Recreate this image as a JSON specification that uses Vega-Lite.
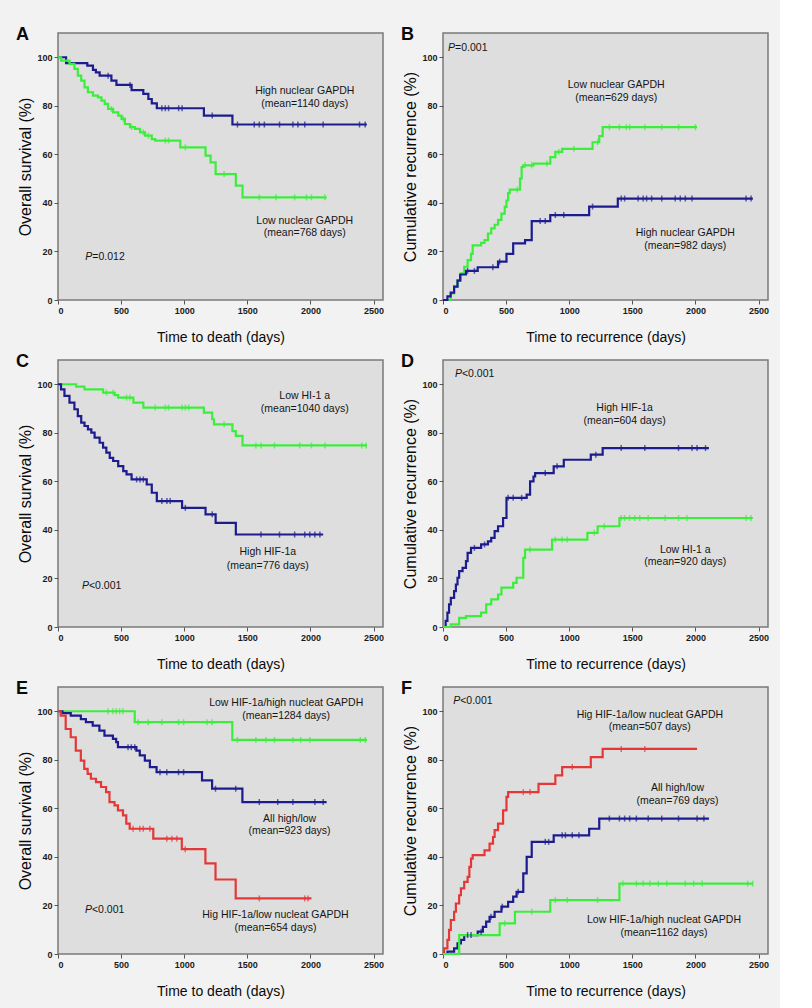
{
  "$schema": "https://vega.github.io/schema/vega-lite/v6.json",
  "background": "#f2f2f2",
  "padding": {"left": 15, "top": 25, "right": 10, "bottom": 10},
  "bounds": "flush",
  "spacing": {"row": 60, "column": 60},
  "columns": 2,
  "config": {
    "font": "Liberation Sans",
    "view": {"fill": "#dedede", "stroke": "#7a7a7a", "strokeWidth": 1.5},
    "axis": {"grid": false, "domain": false, "tickColor": "#555555", "tickSize": 4, "labelFontSize": 9, "labelFontWeight": "bold", "labelColor": "#1a1a1a", "labelPadding": 2, "titleFontSize": 14, "titleFontWeight": "normal", "titleColor": "#0a0a0a", "format": "d"},
    "axisX": {"titlePadding": 15},
    "axisY": {"titlePadding": 3, "titleFontSize": 16},
    "title": {"fontSize": 18, "fontWeight": "bold", "anchor": "start", "frame": "group", "offset": 0, "dx": -42, "dy": 15, "baseline": "alphabetic", "color": "#0a0a0a"},
    "text": {"fontSize": 10.5, "color": "#151515"},
    "line": {"strokeWidth": 2.2},
    "tick": {"orient": "vertical", "size": 6, "thickness": 1.5}
  },
  "datasets": {
    "curves": [
      {"panel":"A","group":"High nuclear GAPDH","t":0,"s":100},{"panel":"A","group":"High nuclear GAPDH","t":64,"s":97.6},{"panel":"A","group":"High nuclear GAPDH","t":232,"s":96.6},{"panel":"A","group":"High nuclear GAPDH","t":277,"s":94.8},{"panel":"A","group":"High nuclear GAPDH","t":300,"s":93.8},{"panel":"A","group":"High nuclear GAPDH","t":330,"s":92.4},{"panel":"A","group":"High nuclear GAPDH","t":423,"s":90.4},{"panel":"A","group":"High nuclear GAPDH","t":463,"s":88.6},{"panel":"A","group":"High nuclear GAPDH","t":583,"s":86.5},{"panel":"A","group":"High nuclear GAPDH","t":676,"s":84.9},{"panel":"A","group":"High nuclear GAPDH","t":716,"s":82.8},{"panel":"A","group":"High nuclear GAPDH","t":743,"s":81},{"panel":"A","group":"High nuclear GAPDH","t":783,"s":79},{"panel":"A","group":"High nuclear GAPDH","t":1156,"s":76},{"panel":"A","group":"High nuclear GAPDH","t":1382,"s":72.3},{"panel":"A","group":"High nuclear GAPDH","t":2447,"s":72.3},
      {"panel":"A","group":"Low nuclear GAPDH","t":0,"s":100},{"panel":"A","group":"Low nuclear GAPDH","t":24,"s":98.6},{"panel":"A","group":"Low nuclear GAPDH","t":91,"s":97.3},{"panel":"A","group":"Low nuclear GAPDH","t":130,"s":95.2},{"panel":"A","group":"Low nuclear GAPDH","t":157,"s":92.4},{"panel":"A","group":"Low nuclear GAPDH","t":184,"s":90.4},{"panel":"A","group":"Low nuclear GAPDH","t":210,"s":87.6},{"panel":"A","group":"Low nuclear GAPDH","t":237,"s":85.6},{"panel":"A","group":"Low nuclear GAPDH","t":277,"s":84.2},{"panel":"A","group":"Low nuclear GAPDH","t":317,"s":83.5},{"panel":"A","group":"Low nuclear GAPDH","t":344,"s":82.1},{"panel":"A","group":"Low nuclear GAPDH","t":370,"s":80.8},{"panel":"A","group":"Low nuclear GAPDH","t":397,"s":78.7},{"panel":"A","group":"Low nuclear GAPDH","t":437,"s":77.3},{"panel":"A","group":"Low nuclear GAPDH","t":477,"s":76},{"panel":"A","group":"Low nuclear GAPDH","t":503,"s":74.6},{"panel":"A","group":"Low nuclear GAPDH","t":530,"s":72.5},{"panel":"A","group":"Low nuclear GAPDH","t":570,"s":71.2},{"panel":"A","group":"Low nuclear GAPDH","t":610,"s":70.5},{"panel":"A","group":"Low nuclear GAPDH","t":650,"s":69.1},{"panel":"A","group":"Low nuclear GAPDH","t":690,"s":67.7},{"panel":"A","group":"Low nuclear GAPDH","t":743,"s":66.3},{"panel":"A","group":"Low nuclear GAPDH","t":770,"s":65.7},{"panel":"A","group":"Low nuclear GAPDH","t":969,"s":62.9},{"panel":"A","group":"Low nuclear GAPDH","t":1169,"s":59.5},{"panel":"A","group":"Low nuclear GAPDH","t":1209,"s":56.7},{"panel":"A","group":"Low nuclear GAPDH","t":1249,"s":51.9},{"panel":"A","group":"Low nuclear GAPDH","t":1409,"s":47.1},{"panel":"A","group":"Low nuclear GAPDH","t":1462,"s":42.3},{"panel":"A","group":"Low nuclear GAPDH","t":2128,"s":42.3},

      {"panel":"B","group":"Low nuclear GAPDH","t":0,"s":0},{"panel":"B","group":"Low nuclear GAPDH","t":61,"s":2.7},{"panel":"B","group":"Low nuclear GAPDH","t":88,"s":5.5},{"panel":"B","group":"Low nuclear GAPDH","t":115,"s":8.2},{"panel":"B","group":"Low nuclear GAPDH","t":142,"s":11},{"panel":"B","group":"Low nuclear GAPDH","t":168,"s":13.7},{"panel":"B","group":"Low nuclear GAPDH","t":195,"s":16.4},{"panel":"B","group":"Low nuclear GAPDH","t":222,"s":19},{"panel":"B","group":"Low nuclear GAPDH","t":235,"s":22.5},{"panel":"B","group":"Low nuclear GAPDH","t":302,"s":23.5},{"panel":"B","group":"Low nuclear GAPDH","t":329,"s":24.7},{"panel":"B","group":"Low nuclear GAPDH","t":356,"s":27.4},{"panel":"B","group":"Low nuclear GAPDH","t":382,"s":29.5},{"panel":"B","group":"Low nuclear GAPDH","t":409,"s":31},{"panel":"B","group":"Low nuclear GAPDH","t":436,"s":33},{"panel":"B","group":"Low nuclear GAPDH","t":463,"s":35.6},{"panel":"B","group":"Low nuclear GAPDH","t":489,"s":38.4},{"panel":"B","group":"Low nuclear GAPDH","t":503,"s":41},{"panel":"B","group":"Low nuclear GAPDH","t":516,"s":44},{"panel":"B","group":"Low nuclear GAPDH","t":529,"s":45.5},{"panel":"B","group":"Low nuclear GAPDH","t":610,"s":50},{"panel":"B","group":"Low nuclear GAPDH","t":623,"s":54.8},{"panel":"B","group":"Low nuclear GAPDH","t":636,"s":55.5},{"panel":"B","group":"Low nuclear GAPDH","t":717,"s":56.2},{"panel":"B","group":"Low nuclear GAPDH","t":850,"s":58.9},{"panel":"B","group":"Low nuclear GAPDH","t":890,"s":61},{"panel":"B","group":"Low nuclear GAPDH","t":944,"s":62.3},{"panel":"B","group":"Low nuclear GAPDH","t":1185,"s":65},{"panel":"B","group":"Low nuclear GAPDH","t":1238,"s":67.5},{"panel":"B","group":"Low nuclear GAPDH","t":1265,"s":71.2},{"panel":"B","group":"Low nuclear GAPDH","t":2013,"s":71.2},
      {"panel":"B","group":"High nuclear GAPDH","t":0,"s":0},{"panel":"B","group":"High nuclear GAPDH","t":35,"s":1.5},{"panel":"B","group":"High nuclear GAPDH","t":61,"s":3},{"panel":"B","group":"High nuclear GAPDH","t":88,"s":5.5},{"panel":"B","group":"High nuclear GAPDH","t":115,"s":8},{"panel":"B","group":"High nuclear GAPDH","t":136,"s":10.5},{"panel":"B","group":"High nuclear GAPDH","t":182,"s":12},{"panel":"B","group":"High nuclear GAPDH","t":275,"s":13.5},{"panel":"B","group":"High nuclear GAPDH","t":436,"s":15.8},{"panel":"B","group":"High nuclear GAPDH","t":503,"s":19},{"panel":"B","group":"High nuclear GAPDH","t":556,"s":23.3},{"panel":"B","group":"High nuclear GAPDH","t":650,"s":24.7},{"panel":"B","group":"High nuclear GAPDH","t":703,"s":32.5},{"panel":"B","group":"High nuclear GAPDH","t":850,"s":35},{"panel":"B","group":"High nuclear GAPDH","t":1158,"s":38.5},{"panel":"B","group":"High nuclear GAPDH","t":1385,"s":41.8},{"panel":"B","group":"High nuclear GAPDH","t":2455,"s":41.8},

      {"panel":"C","group":"Low HIF-1a","t":0,"s":100},{"panel":"C","group":"Low HIF-1a","t":144,"s":99},{"panel":"C","group":"Low HIF-1a","t":210,"s":97.9},{"panel":"C","group":"Low HIF-1a","t":357,"s":96.6},{"panel":"C","group":"Low HIF-1a","t":450,"s":95.5},{"panel":"C","group":"Low HIF-1a","t":477,"s":94.5},{"panel":"C","group":"Low HIF-1a","t":597,"s":92.4},{"panel":"C","group":"Low HIF-1a","t":676,"s":90.4},{"panel":"C","group":"Low HIF-1a","t":1156,"s":88.3},{"panel":"C","group":"Low HIF-1a","t":1222,"s":85.6},{"panel":"C","group":"Low HIF-1a","t":1236,"s":83.5},{"panel":"C","group":"Low HIF-1a","t":1382,"s":80.7},{"panel":"C","group":"Low HIF-1a","t":1409,"s":78.7},{"panel":"C","group":"Low HIF-1a","t":1462,"s":74.8},{"panel":"C","group":"Low HIF-1a","t":2447,"s":74.8},
      {"panel":"C","group":"High HIF-1a","t":0,"s":100},{"panel":"C","group":"High HIF-1a","t":24,"s":97.9},{"panel":"C","group":"High HIF-1a","t":51,"s":95.2},{"panel":"C","group":"High HIF-1a","t":91,"s":92.4},{"panel":"C","group":"High HIF-1a","t":130,"s":89.7},{"panel":"C","group":"High HIF-1a","t":157,"s":86.9},{"panel":"C","group":"High HIF-1a","t":184,"s":84.2},{"panel":"C","group":"High HIF-1a","t":210,"s":82.8},{"panel":"C","group":"High HIF-1a","t":237,"s":81.4},{"panel":"C","group":"High HIF-1a","t":264,"s":80.1},{"panel":"C","group":"High HIF-1a","t":290,"s":78},{"panel":"C","group":"High HIF-1a","t":330,"s":75.9},{"panel":"C","group":"High HIF-1a","t":357,"s":73.9},{"panel":"C","group":"High HIF-1a","t":383,"s":71.8},{"panel":"C","group":"High HIF-1a","t":410,"s":69.7},{"panel":"C","group":"High HIF-1a","t":437,"s":68.4},{"panel":"C","group":"High HIF-1a","t":477,"s":66.3},{"panel":"C","group":"High HIF-1a","t":517,"s":64.2},{"panel":"C","group":"High HIF-1a","t":543,"s":62.9},{"panel":"C","group":"High HIF-1a","t":583,"s":60.8},{"panel":"C","group":"High HIF-1a","t":703,"s":58.7},{"panel":"C","group":"High HIF-1a","t":743,"s":55.3},{"panel":"C","group":"High HIF-1a","t":783,"s":51.9},{"panel":"C","group":"High HIF-1a","t":983,"s":49.1},{"panel":"C","group":"High HIF-1a","t":1169,"s":46.4},{"panel":"C","group":"High HIF-1a","t":1249,"s":42.9},{"panel":"C","group":"High HIF-1a","t":1409,"s":38.1},{"panel":"C","group":"High HIF-1a","t":2101,"s":38.1},

      {"panel":"D","group":"High HIF-1a","t":0,"s":0},{"panel":"D","group":"High HIF-1a","t":21,"s":2.5},{"panel":"D","group":"High HIF-1a","t":35,"s":5.9},{"panel":"D","group":"High HIF-1a","t":48,"s":9.3},{"panel":"D","group":"High HIF-1a","t":62,"s":12},{"panel":"D","group":"High HIF-1a","t":88,"s":14.8},{"panel":"D","group":"High HIF-1a","t":102,"s":17.5},{"panel":"D","group":"High HIF-1a","t":115,"s":20.3},{"panel":"D","group":"High HIF-1a","t":128,"s":23},{"panel":"D","group":"High HIF-1a","t":155,"s":24.4},{"panel":"D","group":"High HIF-1a","t":182,"s":27.1},{"panel":"D","group":"High HIF-1a","t":195,"s":30.5},{"panel":"D","group":"High HIF-1a","t":222,"s":32.6},{"panel":"D","group":"High HIF-1a","t":302,"s":34},{"panel":"D","group":"High HIF-1a","t":356,"s":35.3},{"panel":"D","group":"High HIF-1a","t":382,"s":36.7},{"panel":"D","group":"High HIF-1a","t":409,"s":39.5},{"panel":"D","group":"High HIF-1a","t":436,"s":41.5},{"panel":"D","group":"High HIF-1a","t":476,"s":44.9},{"panel":"D","group":"High HIF-1a","t":503,"s":53.2},{"panel":"D","group":"High HIF-1a","t":663,"s":54.5},{"panel":"D","group":"High HIF-1a","t":690,"s":60},{"panel":"D","group":"High HIF-1a","t":717,"s":62},{"panel":"D","group":"High HIF-1a","t":730,"s":63.4},{"panel":"D","group":"High HIF-1a","t":877,"s":66.2},{"panel":"D","group":"High HIF-1a","t":957,"s":68.9},{"panel":"D","group":"High HIF-1a","t":1171,"s":71},{"panel":"D","group":"High HIF-1a","t":1265,"s":73.7},{"panel":"D","group":"High HIF-1a","t":2107,"s":73.7},
      {"panel":"D","group":"Low HIF-1a","t":0,"s":0},{"panel":"D","group":"Low HIF-1a","t":62,"s":1.1},{"panel":"D","group":"Low HIF-1a","t":128,"s":3.8},{"panel":"D","group":"Low HIF-1a","t":182,"s":4.5},{"panel":"D","group":"Low HIF-1a","t":302,"s":5.9},{"panel":"D","group":"Low HIF-1a","t":342,"s":9.3},{"panel":"D","group":"Low HIF-1a","t":382,"s":11.4},{"panel":"D","group":"Low HIF-1a","t":436,"s":13.4},{"panel":"D","group":"Low HIF-1a","t":463,"s":16.2},{"panel":"D","group":"Low HIF-1a","t":556,"s":18.2},{"panel":"D","group":"Low HIF-1a","t":583,"s":20.3},{"panel":"D","group":"Low HIF-1a","t":636,"s":28.5},{"panel":"D","group":"Low HIF-1a","t":650,"s":31.9},{"panel":"D","group":"Low HIF-1a","t":864,"s":36},{"panel":"D","group":"Low HIF-1a","t":1144,"s":38.8},{"panel":"D","group":"Low HIF-1a","t":1225,"s":41.5},{"panel":"D","group":"Low HIF-1a","t":1398,"s":44.9},{"panel":"D","group":"Low HIF-1a","t":2455,"s":44.9},

      {"panel":"E","group":"Low HIF-1a/high nuclear GAPDH","t":0,"s":100},{"panel":"E","group":"Low HIF-1a/high nuclear GAPDH","t":608,"s":95.5},{"panel":"E","group":"Low HIF-1a/high nuclear GAPDH","t":1381,"s":88.2},{"panel":"E","group":"Low HIF-1a/high nuclear GAPDH","t":2448,"s":88.2},
      {"panel":"E","group":"All high/low","t":0,"s":100},{"panel":"E","group":"All high/low","t":35,"s":99.2},{"panel":"E","group":"All high/low","t":101,"s":98.2},{"panel":"E","group":"All high/low","t":181,"s":96.8},{"panel":"E","group":"All high/low","t":221,"s":95.5},{"panel":"E","group":"All high/low","t":275,"s":94.1},{"panel":"E","group":"All high/low","t":328,"s":92},{"panel":"E","group":"All high/low","t":368,"s":90},{"panel":"E","group":"All high/low","t":435,"s":88.6},{"panel":"E","group":"All high/low","t":461,"s":87.3},{"panel":"E","group":"All high/low","t":475,"s":85.2},{"panel":"E","group":"All high/low","t":621,"s":83.8},{"panel":"E","group":"All high/low","t":648,"s":81.8},{"panel":"E","group":"All high/low","t":688,"s":79.7},{"panel":"E","group":"All high/low","t":728,"s":77},{"panel":"E","group":"All high/low","t":781,"s":74.9},{"panel":"E","group":"All high/low","t":1141,"s":71.5},{"panel":"E","group":"All high/low","t":1221,"s":68.1},{"panel":"E","group":"All high/low","t":1461,"s":62.6},{"panel":"E","group":"All high/low","t":2128,"s":62.6},
      {"panel":"E","group":"High HIF-1a/low nuclear GAPDH","t":0,"s":100},{"panel":"E","group":"High HIF-1a/low nuclear GAPDH","t":21,"s":98.2},{"panel":"E","group":"High HIF-1a/low nuclear GAPDH","t":61,"s":92.7},{"panel":"E","group":"High HIF-1a/low nuclear GAPDH","t":101,"s":89.3},{"panel":"E","group":"High HIF-1a/low nuclear GAPDH","t":141,"s":83.8},{"panel":"E","group":"High HIF-1a/low nuclear GAPDH","t":181,"s":79.7},{"panel":"E","group":"High HIF-1a/low nuclear GAPDH","t":208,"s":76.3},{"panel":"E","group":"High HIF-1a/low nuclear GAPDH","t":235,"s":74.2},{"panel":"E","group":"High HIF-1a/low nuclear GAPDH","t":261,"s":72.2},{"panel":"E","group":"High HIF-1a/low nuclear GAPDH","t":301,"s":70.8},{"panel":"E","group":"High HIF-1a/low nuclear GAPDH","t":341,"s":68.8},{"panel":"E","group":"High HIF-1a/low nuclear GAPDH","t":381,"s":66.7},{"panel":"E","group":"High HIF-1a/low nuclear GAPDH","t":408,"s":62.6},{"panel":"E","group":"High HIF-1a/low nuclear GAPDH","t":448,"s":61.2},{"panel":"E","group":"High HIF-1a/low nuclear GAPDH","t":475,"s":59.2},{"panel":"E","group":"High HIF-1a/low nuclear GAPDH","t":515,"s":57.1},{"panel":"E","group":"High HIF-1a/low nuclear GAPDH","t":541,"s":53.7},{"panel":"E","group":"High HIF-1a/low nuclear GAPDH","t":568,"s":51.6},{"panel":"E","group":"High HIF-1a/low nuclear GAPDH","t":755,"s":47.5},{"panel":"E","group":"High HIF-1a/low nuclear GAPDH","t":981,"s":43.2},{"panel":"E","group":"High HIF-1a/low nuclear GAPDH","t":1168,"s":37.3},{"panel":"E","group":"High HIF-1a/low nuclear GAPDH","t":1248,"s":30.7},{"panel":"E","group":"High HIF-1a/low nuclear GAPDH","t":1408,"s":22.9},{"panel":"E","group":"High HIF-1a/low nuclear GAPDH","t":2008,"s":22.9},

      {"panel":"F","group":"High HIF-1a/low nuclear GAPDH","t":0,"s":0},{"panel":"F","group":"High HIF-1a/low nuclear GAPDH","t":8,"s":2.3},{"panel":"F","group":"High HIF-1a/low nuclear GAPDH","t":35,"s":5.8},{"panel":"F","group":"High HIF-1a/low nuclear GAPDH","t":48,"s":9.9},{"panel":"F","group":"High HIF-1a/low nuclear GAPDH","t":62,"s":14},{"panel":"F","group":"High HIF-1a/low nuclear GAPDH","t":88,"s":17.4},{"panel":"F","group":"High HIF-1a/low nuclear GAPDH","t":102,"s":20.8},{"panel":"F","group":"High HIF-1a/low nuclear GAPDH","t":128,"s":24.2},{"panel":"F","group":"High HIF-1a/low nuclear GAPDH","t":142,"s":27},{"panel":"F","group":"High HIF-1a/low nuclear GAPDH","t":168,"s":29.7},{"panel":"F","group":"High HIF-1a/low nuclear GAPDH","t":195,"s":31.8},{"panel":"F","group":"High HIF-1a/low nuclear GAPDH","t":209,"s":35.9},{"panel":"F","group":"High HIF-1a/low nuclear GAPDH","t":222,"s":39.3},{"panel":"F","group":"High HIF-1a/low nuclear GAPDH","t":235,"s":40.7},{"panel":"F","group":"High HIF-1a/low nuclear GAPDH","t":329,"s":42.7},{"panel":"F","group":"High HIF-1a/low nuclear GAPDH","t":369,"s":45.5},{"panel":"F","group":"High HIF-1a/low nuclear GAPDH","t":396,"s":48.2},{"panel":"F","group":"High HIF-1a/low nuclear GAPDH","t":409,"s":51},{"panel":"F","group":"High HIF-1a/low nuclear GAPDH","t":436,"s":53.7},{"panel":"F","group":"High HIF-1a/low nuclear GAPDH","t":476,"s":59.2},{"panel":"F","group":"High HIF-1a/low nuclear GAPDH","t":503,"s":64.7},{"panel":"F","group":"High HIF-1a/low nuclear GAPDH","t":516,"s":66.7},{"panel":"F","group":"High HIF-1a/low nuclear GAPDH","t":757,"s":70.1},{"panel":"F","group":"High HIF-1a/low nuclear GAPDH","t":890,"s":73.6},{"panel":"F","group":"High HIF-1a/low nuclear GAPDH","t":944,"s":77},{"panel":"F","group":"High HIF-1a/low nuclear GAPDH","t":1171,"s":81.1},{"panel":"F","group":"High HIF-1a/low nuclear GAPDH","t":1265,"s":84.5},{"panel":"F","group":"High HIF-1a/low nuclear GAPDH","t":2013,"s":84.5},
      {"panel":"F","group":"All high/low","t":0,"s":0},{"panel":"F","group":"All high/low","t":35,"s":1},{"panel":"F","group":"All high/low","t":88,"s":2.3},{"panel":"F","group":"All high/low","t":115,"s":4.4},{"panel":"F","group":"All high/low","t":142,"s":5.8},{"panel":"F","group":"All high/low","t":168,"s":7.8},{"panel":"F","group":"All high/low","t":275,"s":9.2},{"panel":"F","group":"All high/low","t":316,"s":11.2},{"panel":"F","group":"All high/low","t":342,"s":13.3},{"panel":"F","group":"All high/low","t":369,"s":15.3},{"panel":"F","group":"All high/low","t":409,"s":17.4},{"panel":"F","group":"All high/low","t":463,"s":19.5},{"panel":"F","group":"All high/low","t":516,"s":21.5},{"panel":"F","group":"All high/low","t":556,"s":23.6},{"panel":"F","group":"All high/low","t":583,"s":25.6},{"panel":"F","group":"All high/low","t":636,"s":33.2},{"panel":"F","group":"All high/low","t":663,"s":40},{"panel":"F","group":"All high/low","t":703,"s":46.2},{"panel":"F","group":"All high/low","t":877,"s":48.9},{"panel":"F","group":"All high/low","t":1158,"s":51.6},{"panel":"F","group":"All high/low","t":1238,"s":55.8},{"panel":"F","group":"All high/low","t":2107,"s":55.8},
      {"panel":"F","group":"Low HIF-1a/high nuclear GAPDH","t":0,"s":0},{"panel":"F","group":"Low HIF-1a/high nuclear GAPDH","t":128,"s":7.8},{"panel":"F","group":"Low HIF-1a/high nuclear GAPDH","t":449,"s":12.6},{"panel":"F","group":"Low HIF-1a/high nuclear GAPDH","t":570,"s":17.4},{"panel":"F","group":"Low HIF-1a/high nuclear GAPDH","t":850,"s":22.2},{"panel":"F","group":"Low HIF-1a/high nuclear GAPDH","t":1398,"s":29},{"panel":"F","group":"Low HIF-1a/high nuclear GAPDH","t":2455,"s":29}
    ],
    "censors": [
      {"panel":"A","group":"High nuclear GAPDH","t":397,"s":92.4},{"panel":"A","group":"High nuclear GAPDH","t":570,"s":88.6},{"panel":"A","group":"High nuclear GAPDH","t":823,"s":79},{"panel":"A","group":"High nuclear GAPDH","t":850,"s":79},{"panel":"A","group":"High nuclear GAPDH","t":876,"s":79},{"panel":"A","group":"High nuclear GAPDH","t":956,"s":79},{"panel":"A","group":"High nuclear GAPDH","t":983,"s":79},{"panel":"A","group":"High nuclear GAPDH","t":1222,"s":76},{"panel":"A","group":"High nuclear GAPDH","t":1422,"s":72.3},{"panel":"A","group":"High nuclear GAPDH","t":1555,"s":72.3},{"panel":"A","group":"High nuclear GAPDH","t":1595,"s":72.3},{"panel":"A","group":"High nuclear GAPDH","t":1635,"s":72.3},{"panel":"A","group":"High nuclear GAPDH","t":1755,"s":72.3},{"panel":"A","group":"High nuclear GAPDH","t":1861,"s":72.3},{"panel":"A","group":"High nuclear GAPDH","t":1901,"s":72.3},{"panel":"A","group":"High nuclear GAPDH","t":1955,"s":72.3},{"panel":"A","group":"High nuclear GAPDH","t":2101,"s":72.3},{"panel":"A","group":"High nuclear GAPDH","t":2389,"s":72.3},{"panel":"A","group":"High nuclear GAPDH","t":2434,"s":72.3},
      {"panel":"A","group":"Low nuclear GAPDH","t":423,"s":78.7},{"panel":"A","group":"Low nuclear GAPDH","t":517,"s":74.6},{"panel":"A","group":"Low nuclear GAPDH","t":583,"s":71.2},{"panel":"A","group":"Low nuclear GAPDH","t":676,"s":69.1},{"panel":"A","group":"Low nuclear GAPDH","t":716,"s":67.7},{"panel":"A","group":"Low nuclear GAPDH","t":850,"s":65.7},{"panel":"A","group":"Low nuclear GAPDH","t":876,"s":65.7},{"panel":"A","group":"Low nuclear GAPDH","t":1009,"s":62.9},{"panel":"A","group":"Low nuclear GAPDH","t":1316,"s":51.9},{"panel":"A","group":"Low nuclear GAPDH","t":1595,"s":42.3},{"panel":"A","group":"Low nuclear GAPDH","t":1728,"s":42.3},{"panel":"A","group":"Low nuclear GAPDH","t":1875,"s":42.3},{"panel":"A","group":"Low nuclear GAPDH","t":1968,"s":42.3},{"panel":"A","group":"Low nuclear GAPDH","t":2008,"s":42.3},{"panel":"A","group":"Low nuclear GAPDH","t":2115,"s":42.3},
      {"panel":"B","group":"Low nuclear GAPDH","t":589,"s":45.5},{"panel":"B","group":"Low nuclear GAPDH","t":650,"s":55.5},{"panel":"B","group":"Low nuclear GAPDH","t":703,"s":55.5},{"panel":"B","group":"Low nuclear GAPDH","t":823,"s":56.2},{"panel":"B","group":"Low nuclear GAPDH","t":917,"s":61},{"panel":"B","group":"Low nuclear GAPDH","t":1037,"s":62.3},{"panel":"B","group":"Low nuclear GAPDH","t":1225,"s":65},{"panel":"B","group":"Low nuclear GAPDH","t":1318,"s":71.2},{"panel":"B","group":"Low nuclear GAPDH","t":1398,"s":71.2},{"panel":"B","group":"Low nuclear GAPDH","t":1452,"s":71.2},{"panel":"B","group":"Low nuclear GAPDH","t":1479,"s":71.2},{"panel":"B","group":"Low nuclear GAPDH","t":1599,"s":71.2},{"panel":"B","group":"Low nuclear GAPDH","t":1733,"s":71.2},{"panel":"B","group":"Low nuclear GAPDH","t":1866,"s":71.2},{"panel":"B","group":"Low nuclear GAPDH","t":2000,"s":71.2},
      {"panel":"B","group":"High nuclear GAPDH","t":195,"s":12},{"panel":"B","group":"High nuclear GAPDH","t":249,"s":12},{"panel":"B","group":"High nuclear GAPDH","t":395,"s":13.5},{"panel":"B","group":"High nuclear GAPDH","t":449,"s":15.8},{"panel":"B","group":"High nuclear GAPDH","t":770,"s":32.5},{"panel":"B","group":"High nuclear GAPDH","t":810,"s":32.5},{"panel":"B","group":"High nuclear GAPDH","t":890,"s":35},{"panel":"B","group":"High nuclear GAPDH","t":957,"s":35},{"panel":"B","group":"High nuclear GAPDH","t":1185,"s":38.5},{"panel":"B","group":"High nuclear GAPDH","t":1412,"s":41.8},{"panel":"B","group":"High nuclear GAPDH","t":1439,"s":41.8},{"panel":"B","group":"High nuclear GAPDH","t":1546,"s":41.8},{"panel":"B","group":"High nuclear GAPDH","t":1586,"s":41.8},{"panel":"B","group":"High nuclear GAPDH","t":1613,"s":41.8},{"panel":"B","group":"High nuclear GAPDH","t":1653,"s":41.8},{"panel":"B","group":"High nuclear GAPDH","t":1733,"s":41.8},{"panel":"B","group":"High nuclear GAPDH","t":1840,"s":41.8},{"panel":"B","group":"High nuclear GAPDH","t":1880,"s":41.8},{"panel":"B","group":"High nuclear GAPDH","t":1920,"s":41.8},{"panel":"B","group":"High nuclear GAPDH","t":1973,"s":41.8},{"panel":"B","group":"High nuclear GAPDH","t":2401,"s":41.8},{"panel":"B","group":"High nuclear GAPDH","t":2441,"s":41.8},
      {"panel":"C","group":"Low HIF-1a","t":384,"s":96.6},{"panel":"C","group":"Low HIF-1a","t":437,"s":96.6},{"panel":"C","group":"Low HIF-1a","t":543,"s":94.5},{"panel":"C","group":"Low HIF-1a","t":570,"s":94.5},{"panel":"C","group":"Low HIF-1a","t":770,"s":90.4},{"panel":"C","group":"Low HIF-1a","t":850,"s":90.4},{"panel":"C","group":"Low HIF-1a","t":876,"s":90.4},{"panel":"C","group":"Low HIF-1a","t":983,"s":90.4},{"panel":"C","group":"Low HIF-1a","t":1009,"s":90.4},{"panel":"C","group":"Low HIF-1a","t":1036,"s":90.4},{"panel":"C","group":"Low HIF-1a","t":1316,"s":83.5},{"panel":"C","group":"Low HIF-1a","t":1568,"s":74.8},{"panel":"C","group":"Low HIF-1a","t":1608,"s":74.8},{"panel":"C","group":"Low HIF-1a","t":1715,"s":74.8},{"panel":"C","group":"Low HIF-1a","t":1915,"s":74.8},{"panel":"C","group":"Low HIF-1a","t":2008,"s":74.8},{"panel":"C","group":"Low HIF-1a","t":2115,"s":74.8},{"panel":"C","group":"Low HIF-1a","t":2407,"s":74.8},{"panel":"C","group":"Low HIF-1a","t":2442,"s":74.8},
      {"panel":"C","group":"High HIF-1a","t":623,"s":60.8},{"panel":"C","group":"High HIF-1a","t":650,"s":60.8},{"panel":"C","group":"High HIF-1a","t":676,"s":60.8},{"panel":"C","group":"High HIF-1a","t":823,"s":51.9},{"panel":"C","group":"High HIF-1a","t":863,"s":51.9},{"panel":"C","group":"High HIF-1a","t":889,"s":51.9},{"panel":"C","group":"High HIF-1a","t":1009,"s":49.1},{"panel":"C","group":"High HIF-1a","t":1222,"s":46.4},{"panel":"C","group":"High HIF-1a","t":1608,"s":38.1},{"panel":"C","group":"High HIF-1a","t":1755,"s":38.1},{"panel":"C","group":"High HIF-1a","t":1875,"s":38.1},{"panel":"C","group":"High HIF-1a","t":1955,"s":38.1},{"panel":"C","group":"High HIF-1a","t":1995,"s":38.1},{"panel":"C","group":"High HIF-1a","t":2035,"s":38.1},{"panel":"C","group":"High HIF-1a","t":2075,"s":38.1},
      {"panel":"D","group":"High HIF-1a","t":249,"s":32.6},{"panel":"D","group":"High HIF-1a","t":329,"s":34},{"panel":"D","group":"High HIF-1a","t":516,"s":53.2},{"panel":"D","group":"High HIF-1a","t":556,"s":53.2},{"panel":"D","group":"High HIF-1a","t":623,"s":53.2},{"panel":"D","group":"High HIF-1a","t":810,"s":63.4},{"panel":"D","group":"High HIF-1a","t":904,"s":66.2},{"panel":"D","group":"High HIF-1a","t":1211,"s":71},{"panel":"D","group":"High HIF-1a","t":1412,"s":73.7},{"panel":"D","group":"High HIF-1a","t":1599,"s":73.7},{"panel":"D","group":"High HIF-1a","t":1866,"s":73.7},{"panel":"D","group":"High HIF-1a","t":1973,"s":73.7},{"panel":"D","group":"High HIF-1a","t":2013,"s":73.7},{"panel":"D","group":"High HIF-1a","t":2080,"s":73.7},
      {"panel":"D","group":"Low HIF-1a","t":690,"s":31.9},{"panel":"D","group":"Low HIF-1a","t":890,"s":36},{"panel":"D","group":"Low HIF-1a","t":944,"s":36},{"panel":"D","group":"Low HIF-1a","t":984,"s":36},{"panel":"D","group":"Low HIF-1a","t":1198,"s":38.8},{"panel":"D","group":"Low HIF-1a","t":1278,"s":41.5},{"panel":"D","group":"Low HIF-1a","t":1412,"s":44.9},{"panel":"D","group":"Low HIF-1a","t":1439,"s":44.9},{"panel":"D","group":"Low HIF-1a","t":1479,"s":44.9},{"panel":"D","group":"Low HIF-1a","t":1519,"s":44.9},{"panel":"D","group":"Low HIF-1a","t":1559,"s":44.9},{"panel":"D","group":"Low HIF-1a","t":1626,"s":44.9},{"panel":"D","group":"Low HIF-1a","t":1760,"s":44.9},{"panel":"D","group":"Low HIF-1a","t":1866,"s":44.9},{"panel":"D","group":"Low HIF-1a","t":1933,"s":44.9},{"panel":"D","group":"Low HIF-1a","t":2401,"s":44.9},{"panel":"D","group":"Low HIF-1a","t":2441,"s":44.9},
      {"panel":"E","group":"Low HIF-1a/high nuclear GAPDH","t":395,"s":100},{"panel":"E","group":"Low HIF-1a/high nuclear GAPDH","t":435,"s":100},{"panel":"E","group":"Low HIF-1a/high nuclear GAPDH","t":461,"s":100},{"panel":"E","group":"Low HIF-1a/high nuclear GAPDH","t":488,"s":100},{"panel":"E","group":"Low HIF-1a/high nuclear GAPDH","t":515,"s":100},{"panel":"E","group":"Low HIF-1a/high nuclear GAPDH","t":635,"s":95.5},{"panel":"E","group":"Low HIF-1a/high nuclear GAPDH","t":715,"s":95.5},{"panel":"E","group":"Low HIF-1a/high nuclear GAPDH","t":822,"s":95.5},{"panel":"E","group":"Low HIF-1a/high nuclear GAPDH","t":955,"s":95.5},{"panel":"E","group":"Low HIF-1a/high nuclear GAPDH","t":995,"s":95.5},{"panel":"E","group":"Low HIF-1a/high nuclear GAPDH","t":1181,"s":95.5},{"panel":"E","group":"Low HIF-1a/high nuclear GAPDH","t":1221,"s":95.5},{"panel":"E","group":"Low HIF-1a/high nuclear GAPDH","t":1421,"s":88.2},{"panel":"E","group":"Low HIF-1a/high nuclear GAPDH","t":1568,"s":88.2},{"panel":"E","group":"Low HIF-1a/high nuclear GAPDH","t":1648,"s":88.2},{"panel":"E","group":"Low HIF-1a/high nuclear GAPDH","t":1715,"s":88.2},{"panel":"E","group":"Low HIF-1a/high nuclear GAPDH","t":1861,"s":88.2},{"panel":"E","group":"Low HIF-1a/high nuclear GAPDH","t":1923,"s":88.2},{"panel":"E","group":"Low HIF-1a/high nuclear GAPDH","t":1995,"s":88.2},{"panel":"E","group":"Low HIF-1a/high nuclear GAPDH","t":2395,"s":88.2},{"panel":"E","group":"Low HIF-1a/high nuclear GAPDH","t":2435,"s":88.2},
      {"panel":"E","group":"All high/low","t":555,"s":85.2},{"panel":"E","group":"All high/low","t":581,"s":85.2},{"panel":"E","group":"All high/low","t":608,"s":85.2},{"panel":"E","group":"All high/low","t":808,"s":74.9},{"panel":"E","group":"All high/low","t":862,"s":74.9},{"panel":"E","group":"All high/low","t":955,"s":74.9},{"panel":"E","group":"All high/low","t":995,"s":74.9},{"panel":"E","group":"All high/low","t":1248,"s":68.1},{"panel":"E","group":"All high/low","t":1408,"s":68.1},{"panel":"E","group":"All high/low","t":1595,"s":62.6},{"panel":"E","group":"All high/low","t":1741,"s":62.6},{"panel":"E","group":"All high/low","t":1861,"s":62.6},{"panel":"E","group":"All high/low","t":2035,"s":62.6},{"panel":"E","group":"All high/low","t":2101,"s":62.6},
      {"panel":"E","group":"High HIF-1a/low nuclear GAPDH","t":595,"s":51.6},{"panel":"E","group":"High HIF-1a/low nuclear GAPDH","t":648,"s":51.6},{"panel":"E","group":"High HIF-1a/low nuclear GAPDH","t":675,"s":51.6},{"panel":"E","group":"High HIF-1a/low nuclear GAPDH","t":728,"s":51.6},{"panel":"E","group":"High HIF-1a/low nuclear GAPDH","t":862,"s":47.5},{"panel":"E","group":"High HIF-1a/low nuclear GAPDH","t":902,"s":47.5},{"panel":"E","group":"High HIF-1a/low nuclear GAPDH","t":941,"s":47.5},{"panel":"E","group":"High HIF-1a/low nuclear GAPDH","t":1008,"s":43.2},{"panel":"E","group":"High HIF-1a/low nuclear GAPDH","t":1595,"s":22.9},{"panel":"E","group":"High HIF-1a/low nuclear GAPDH","t":1955,"s":22.9},{"panel":"E","group":"High HIF-1a/low nuclear GAPDH","t":1981,"s":22.9},
      {"panel":"F","group":"High HIF-1a/low nuclear GAPDH","t":636,"s":66.7},{"panel":"F","group":"High HIF-1a/low nuclear GAPDH","t":690,"s":66.7},{"panel":"F","group":"High HIF-1a/low nuclear GAPDH","t":1024,"s":77},{"panel":"F","group":"High HIF-1a/low nuclear GAPDH","t":1412,"s":84.5},{"panel":"F","group":"High HIF-1a/low nuclear GAPDH","t":1599,"s":84.5},
      {"panel":"F","group":"All high/low","t":195,"s":7.8},{"panel":"F","group":"All high/low","t":222,"s":7.8},{"panel":"F","group":"All high/low","t":302,"s":9.2},{"panel":"F","group":"All high/low","t":380,"s":15.3},{"panel":"F","group":"All high/low","t":470,"s":19.5},{"panel":"F","group":"All high/low","t":596,"s":25.6},{"panel":"F","group":"All high/low","t":810,"s":46.2},{"panel":"F","group":"All high/low","t":837,"s":46.2},{"panel":"F","group":"All high/low","t":944,"s":48.9},{"panel":"F","group":"All high/low","t":970,"s":48.9},{"panel":"F","group":"All high/low","t":1024,"s":48.9},{"panel":"F","group":"All high/low","t":1077,"s":48.9},{"panel":"F","group":"All high/low","t":1318,"s":55.8},{"panel":"F","group":"All high/low","t":1398,"s":55.8},{"panel":"F","group":"All high/low","t":1439,"s":55.8},{"panel":"F","group":"All high/low","t":1479,"s":55.8},{"panel":"F","group":"All high/low","t":1532,"s":55.8},{"panel":"F","group":"All high/low","t":1626,"s":55.8},{"panel":"F","group":"All high/low","t":1733,"s":55.8},{"panel":"F","group":"All high/low","t":1866,"s":55.8},{"panel":"F","group":"All high/low","t":2013,"s":55.8},{"panel":"F","group":"All high/low","t":2067,"s":55.8},
      {"panel":"F","group":"Low HIF-1a/high nuclear GAPDH","t":489,"s":12.6},{"panel":"F","group":"Low HIF-1a/high nuclear GAPDH","t":703,"s":17.4},{"panel":"F","group":"Low HIF-1a/high nuclear GAPDH","t":890,"s":22.2},{"panel":"F","group":"Low HIF-1a/high nuclear GAPDH","t":984,"s":22.2},{"panel":"F","group":"Low HIF-1a/high nuclear GAPDH","t":1225,"s":22.2},{"panel":"F","group":"Low HIF-1a/high nuclear GAPDH","t":1425,"s":29},{"panel":"F","group":"Low HIF-1a/high nuclear GAPDH","t":1532,"s":29},{"panel":"F","group":"Low HIF-1a/high nuclear GAPDH","t":1586,"s":29},{"panel":"F","group":"Low HIF-1a/high nuclear GAPDH","t":1639,"s":29},{"panel":"F","group":"Low HIF-1a/high nuclear GAPDH","t":1706,"s":29},{"panel":"F","group":"Low HIF-1a/high nuclear GAPDH","t":1773,"s":29},{"panel":"F","group":"Low HIF-1a/high nuclear GAPDH","t":1920,"s":29},{"panel":"F","group":"Low HIF-1a/high nuclear GAPDH","t":1986,"s":29},{"panel":"F","group":"Low HIF-1a/high nuclear GAPDH","t":2054,"s":29},{"panel":"F","group":"Low HIF-1a/high nuclear GAPDH","t":2414,"s":29},{"panel":"F","group":"Low HIF-1a/high nuclear GAPDH","t":2454,"s":29}
    ],
    "labels": [
      {"panel":"A","t":1955,"s":86,"text":"High nuclear GAPDH"},{"panel":"A","t":1955,"s":80.8,"text":"(mean=1140 days)"},{"panel":"A","t":1955,"s":32.7,"text":"Low nuclear GAPDH"},{"panel":"A","t":1955,"s":27.6,"text":"(mean=768 days)"},
      {"panel":"B","t":1372,"s":88.4,"text":"Low nuclear GAPDH"},{"panel":"B","t":1372,"s":83.2,"text":"(mean=629 days)"},{"panel":"B","t":1920,"s":27.4,"text":"High nuclear GAPDH"},{"panel":"B","t":1920,"s":22.2,"text":"(mean=982 days)"},
      {"panel":"C","t":1955,"s":95.2,"text":"Low HI-1 a"},{"panel":"C","t":1955,"s":89.7,"text":"(mean=1040 days)"},{"panel":"C","t":1662,"s":30.8,"text":"High HIF-1a"},{"panel":"C","t":1662,"s":25.3,"text":"(mean=776 days)"},
      {"panel":"D","t":1439,"s":90.1,"text":"High HIF-1a"},{"panel":"D","t":1439,"s":84.9,"text":"(mean=604 days)"},{"panel":"D","t":1920,"s":31.9,"text":"Low HI-1 a"},{"panel":"D","t":1920,"s":26.7,"text":"(mean=920 days)"},
      {"panel":"E","t":1808,"s":103.3,"text":"Low HIF-1a/high nucleat GAPDH"},{"panel":"E","t":1808,"s":98.2,"text":"(mean=1284 days)"},{"panel":"E","t":1835,"s":55.8,"text":"All high/low"},{"panel":"E","t":1835,"s":50.5,"text":"(mean=923 days)"},{"panel":"E","t":1723,"s":16,"text":"Hig HIF-1a/low nucleat GAPDH"},{"panel":"E","t":1723,"s":10.8,"text":"(mean=654 days)"},
      {"panel":"F","t":1639,"s":98.6,"text":"Hig HIF-1a/low nucleat GAPDH"},{"panel":"F","t":1639,"s":93.4,"text":"(mean=507 days)"},{"panel":"F","t":1858,"s":68.4,"text":"All high/low"},{"panel":"F","t":1858,"s":63,"text":"(mean=769 days)"},{"panel":"F","t":1751,"s":14,"text":"Low HIF-1a/high nucleat GAPDH"},{"panel":"F","t":1751,"s":8.8,"text":"(mean=1162 days)"}
    ],
    "pvals": [
      {"panel":"A","t":272,"s":17.9,"pval":"=0.012"},
      {"panel":"B","t":96,"s":103.8,"pval":"=0.001"},
      {"panel":"C","t":245,"s":16.8,"pval":"<0.001"},
      {"panel":"D","t":150,"s":104.2,"pval":"<0.001"},
      {"panel":"E","t":269,"s":18.1,"pval":"<0.001"},
      {"panel":"F","t":136,"s":104.1,"pval":"<0.001"}
    ]
  },
  "concat": [
    {
      "width": 325, "height": 267, "title": "A",
      "encoding": {
        "x": {"field": "t", "type": "quantitative", "scale": {"domain": [0, 2575], "nice": false, "zero": false}, "axis": {"values": [0, 500, 1000, 1500, 2000, 2500], "title": "Time to death (days)"}},
        "y": {"field": "s", "type": "quantitative", "scale": {"domain": [0, 110], "nice": false}, "axis": {"values": [0, 20, 40, 60, 80, 100], "title": "Overall survival (%)"}}
      },
      "layer": [
        {"data": {"name": "curves"}, "transform": [{"filter": "datum.panel === 'A'"}], "mark": {"type": "line", "interpolate": "step-after"}, "encoding": {"color": {"field": "group", "type": "nominal", "legend": null, "scale": {"domain": ["High nuclear GAPDH", "Low nuclear GAPDH", "High HIF-1a", "Low HIF-1a", "All high/low", "Low HIF-1a/high nuclear GAPDH", "High HIF-1a/low nuclear GAPDH"], "range": ["#1c1c8e", "#3cee3c", "#1c1c8e", "#3cee3c", "#1c1c8e", "#3cee3c", "#e43838"]}}}},
        {"data": {"name": "censors"}, "transform": [{"filter": "datum.panel === 'A'"}], "mark": {"type": "tick"}, "encoding": {"color": {"field": "group", "type": "nominal", "legend": null}}},
        {"data": {"name": "labels"}, "transform": [{"filter": "datum.panel === 'A'"}], "mark": {"type": "text"}, "encoding": {"text": {"field": "text"}}},
        {"data": {"name": "pvals"}, "transform": [{"filter": "datum.panel === 'A'"}], "mark": {"type": "text", "text": "P", "align": "right", "fontStyle": "italic"}},
        {"data": {"name": "pvals"}, "transform": [{"filter": "datum.panel === 'A'"}], "mark": {"type": "text", "align": "left"}, "encoding": {"text": {"field": "pval"}}}
      ]
    },
    {
      "width": 325, "height": 267, "title": "B",
      "encoding": {
        "x": {"field": "t", "type": "quantitative", "scale": {"domain": [0, 2575], "nice": false, "zero": false}, "axis": {"values": [0, 500, 1000, 1500, 2000, 2500], "title": "Time to recurrence (days)"}},
        "y": {"field": "s", "type": "quantitative", "scale": {"domain": [0, 110], "nice": false}, "axis": {"values": [0, 20, 40, 60, 80, 100], "title": "Cumulative recurrence (%)"}}
      },
      "layer": [
        {"data": {"name": "curves"}, "transform": [{"filter": "datum.panel === 'B'"}], "mark": {"type": "line", "interpolate": "step-after"}, "encoding": {"color": {"field": "group", "type": "nominal", "legend": null, "scale": {"domain": ["High nuclear GAPDH", "Low nuclear GAPDH", "High HIF-1a", "Low HIF-1a", "All high/low", "Low HIF-1a/high nuclear GAPDH", "High HIF-1a/low nuclear GAPDH"], "range": ["#1c1c8e", "#3cee3c", "#1c1c8e", "#3cee3c", "#1c1c8e", "#3cee3c", "#e43838"]}}}},
        {"data": {"name": "censors"}, "transform": [{"filter": "datum.panel === 'B'"}], "mark": {"type": "tick"}, "encoding": {"color": {"field": "group", "type": "nominal", "legend": null}}},
        {"data": {"name": "labels"}, "transform": [{"filter": "datum.panel === 'B'"}], "mark": {"type": "text"}, "encoding": {"text": {"field": "text"}}},
        {"data": {"name": "pvals"}, "transform": [{"filter": "datum.panel === 'B'"}], "mark": {"type": "text", "text": "P", "align": "right", "fontStyle": "italic"}},
        {"data": {"name": "pvals"}, "transform": [{"filter": "datum.panel === 'B'"}], "mark": {"type": "text", "align": "left"}, "encoding": {"text": {"field": "pval"}}}
      ]
    },
    {
      "width": 325, "height": 267, "title": "C",
      "encoding": {
        "x": {"field": "t", "type": "quantitative", "scale": {"domain": [0, 2575], "nice": false, "zero": false}, "axis": {"values": [0, 500, 1000, 1500, 2000, 2500], "title": "Time to death (days)"}},
        "y": {"field": "s", "type": "quantitative", "scale": {"domain": [0, 110], "nice": false}, "axis": {"values": [0, 20, 40, 60, 80, 100], "title": "Overall survival (%)"}}
      },
      "layer": [
        {"data": {"name": "curves"}, "transform": [{"filter": "datum.panel === 'C'"}], "mark": {"type": "line", "interpolate": "step-after"}, "encoding": {"color": {"field": "group", "type": "nominal", "legend": null, "scale": {"domain": ["High nuclear GAPDH", "Low nuclear GAPDH", "High HIF-1a", "Low HIF-1a", "All high/low", "Low HIF-1a/high nuclear GAPDH", "High HIF-1a/low nuclear GAPDH"], "range": ["#1c1c8e", "#3cee3c", "#1c1c8e", "#3cee3c", "#1c1c8e", "#3cee3c", "#e43838"]}}}},
        {"data": {"name": "censors"}, "transform": [{"filter": "datum.panel === 'C'"}], "mark": {"type": "tick"}, "encoding": {"color": {"field": "group", "type": "nominal", "legend": null}}},
        {"data": {"name": "labels"}, "transform": [{"filter": "datum.panel === 'C'"}], "mark": {"type": "text"}, "encoding": {"text": {"field": "text"}}},
        {"data": {"name": "pvals"}, "transform": [{"filter": "datum.panel === 'C'"}], "mark": {"type": "text", "text": "P", "align": "right", "fontStyle": "italic"}},
        {"data": {"name": "pvals"}, "transform": [{"filter": "datum.panel === 'C'"}], "mark": {"type": "text", "align": "left"}, "encoding": {"text": {"field": "pval"}}}
      ]
    },
    {
      "width": 325, "height": 267, "title": "D",
      "encoding": {
        "x": {"field": "t", "type": "quantitative", "scale": {"domain": [0, 2575], "nice": false, "zero": false}, "axis": {"values": [0, 500, 1000, 1500, 2000, 2500], "title": "Time to recurrence (days)"}},
        "y": {"field": "s", "type": "quantitative", "scale": {"domain": [0, 110], "nice": false}, "axis": {"values": [0, 20, 40, 60, 80, 100], "title": "Cumulative recurrence (%)"}}
      },
      "layer": [
        {"data": {"name": "curves"}, "transform": [{"filter": "datum.panel === 'D'"}], "mark": {"type": "line", "interpolate": "step-after"}, "encoding": {"color": {"field": "group", "type": "nominal", "legend": null, "scale": {"domain": ["High nuclear GAPDH", "Low nuclear GAPDH", "High HIF-1a", "Low HIF-1a", "All high/low", "Low HIF-1a/high nuclear GAPDH", "High HIF-1a/low nuclear GAPDH"], "range": ["#1c1c8e", "#3cee3c", "#1c1c8e", "#3cee3c", "#1c1c8e", "#3cee3c", "#e43838"]}}}},
        {"data": {"name": "censors"}, "transform": [{"filter": "datum.panel === 'D'"}], "mark": {"type": "tick"}, "encoding": {"color": {"field": "group", "type": "nominal", "legend": null}}},
        {"data": {"name": "labels"}, "transform": [{"filter": "datum.panel === 'D'"}], "mark": {"type": "text"}, "encoding": {"text": {"field": "text"}}},
        {"data": {"name": "pvals"}, "transform": [{"filter": "datum.panel === 'D'"}], "mark": {"type": "text", "text": "P", "align": "right", "fontStyle": "italic"}},
        {"data": {"name": "pvals"}, "transform": [{"filter": "datum.panel === 'D'"}], "mark": {"type": "text", "align": "left"}, "encoding": {"text": {"field": "pval"}}}
      ]
    },
    {
      "width": 325, "height": 267, "title": "E",
      "encoding": {
        "x": {"field": "t", "type": "quantitative", "scale": {"domain": [0, 2575], "nice": false, "zero": false}, "axis": {"values": [0, 500, 1000, 1500, 2000, 2500], "title": "Time to death (days)"}},
        "y": {"field": "s", "type": "quantitative", "scale": {"domain": [0, 110], "nice": false}, "axis": {"values": [0, 20, 40, 60, 80, 100], "title": "Overall survival (%)"}}
      },
      "layer": [
        {"data": {"name": "curves"}, "transform": [{"filter": "datum.panel === 'E'"}], "mark": {"type": "line", "interpolate": "step-after"}, "encoding": {"color": {"field": "group", "type": "nominal", "legend": null, "scale": {"domain": ["High nuclear GAPDH", "Low nuclear GAPDH", "High HIF-1a", "Low HIF-1a", "All high/low", "Low HIF-1a/high nuclear GAPDH", "High HIF-1a/low nuclear GAPDH"], "range": ["#1c1c8e", "#3cee3c", "#1c1c8e", "#3cee3c", "#1c1c8e", "#3cee3c", "#e43838"]}}}},
        {"data": {"name": "censors"}, "transform": [{"filter": "datum.panel === 'E'"}], "mark": {"type": "tick"}, "encoding": {"color": {"field": "group", "type": "nominal", "legend": null}}},
        {"data": {"name": "labels"}, "transform": [{"filter": "datum.panel === 'E'"}], "mark": {"type": "text"}, "encoding": {"text": {"field": "text"}}},
        {"data": {"name": "pvals"}, "transform": [{"filter": "datum.panel === 'E'"}], "mark": {"type": "text", "text": "P", "align": "right", "fontStyle": "italic"}},
        {"data": {"name": "pvals"}, "transform": [{"filter": "datum.panel === 'E'"}], "mark": {"type": "text", "align": "left"}, "encoding": {"text": {"field": "pval"}}}
      ]
    },
    {
      "width": 325, "height": 267, "title": "F",
      "encoding": {
        "x": {"field": "t", "type": "quantitative", "scale": {"domain": [0, 2575], "nice": false, "zero": false}, "axis": {"values": [0, 500, 1000, 1500, 2000, 2500], "title": "Time to recurrence (days)"}},
        "y": {"field": "s", "type": "quantitative", "scale": {"domain": [0, 110], "nice": false}, "axis": {"values": [0, 20, 40, 60, 80, 100], "title": "Cumulative recurrence (%)"}}
      },
      "layer": [
        {"data": {"name": "curves"}, "transform": [{"filter": "datum.panel === 'F'"}], "mark": {"type": "line", "interpolate": "step-after"}, "encoding": {"color": {"field": "group", "type": "nominal", "legend": null, "scale": {"domain": ["High nuclear GAPDH", "Low nuclear GAPDH", "High HIF-1a", "Low HIF-1a", "All high/low", "Low HIF-1a/high nuclear GAPDH", "High HIF-1a/low nuclear GAPDH"], "range": ["#1c1c8e", "#3cee3c", "#1c1c8e", "#3cee3c", "#1c1c8e", "#3cee3c", "#e43838"]}}}},
        {"data": {"name": "censors"}, "transform": [{"filter": "datum.panel === 'F'"}], "mark": {"type": "tick"}, "encoding": {"color": {"field": "group", "type": "nominal", "legend": null}}},
        {"data": {"name": "labels"}, "transform": [{"filter": "datum.panel === 'F'"}], "mark": {"type": "text"}, "encoding": {"text": {"field": "text"}}},
        {"data": {"name": "pvals"}, "transform": [{"filter": "datum.panel === 'F'"}], "mark": {"type": "text", "text": "P", "align": "right", "fontStyle": "italic"}},
        {"data": {"name": "pvals"}, "transform": [{"filter": "datum.panel === 'F'"}], "mark": {"type": "text", "align": "left"}, "encoding": {"text": {"field": "pval"}}}
      ]
    }
  ]
}
